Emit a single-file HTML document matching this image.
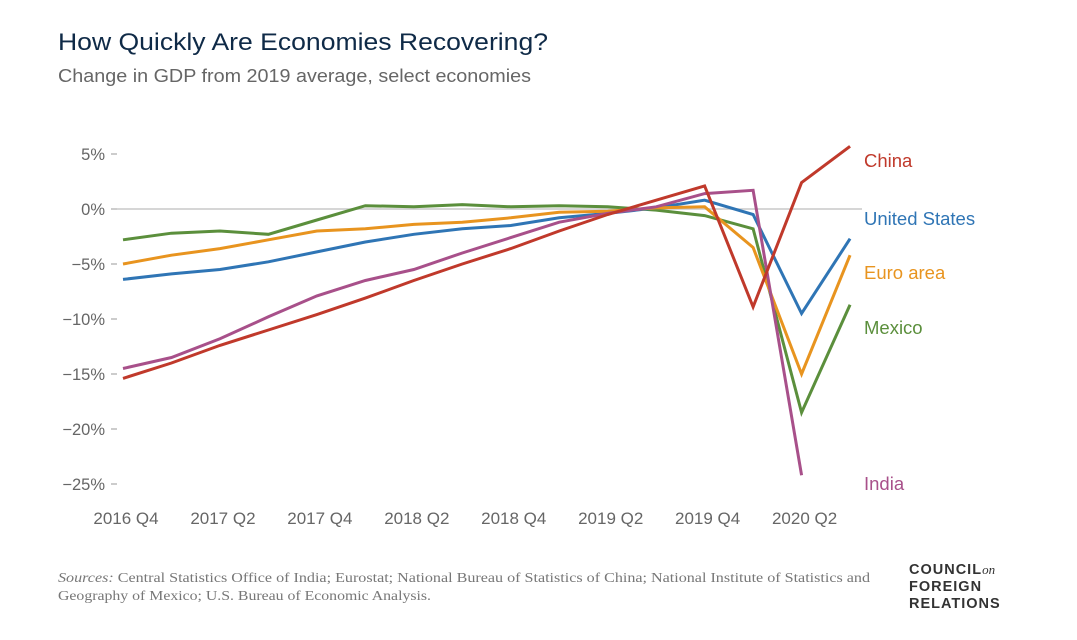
<!DOCTYPE html>
<html><head><meta charset="utf-8"><style>
body{margin:0;background:#fff;width:1077px;height:635px;overflow:hidden;font-family:"Liberation Sans",sans-serif}
svg text{font-family:"Liberation Sans",sans-serif}
</style></head><body>
<svg id="chart" width="1077" height="635">
<text x="58" y="50" font-size="24" fill="#0f2a47" textLength="490" lengthAdjust="spacingAndGlyphs">How Quickly Are Economies Recovering?</text>
<text x="58" y="82" font-size="18" fill="#666" textLength="473" lengthAdjust="spacingAndGlyphs">Change in GDP from 2019 average, select economies</text>
<g id="axes"></g><g id="lines"></g><g id="labels"></g>
<text x="58" y="582" font-size="13.5" fill="#777" font-family="Liberation Serif" textLength="812" lengthAdjust="spacingAndGlyphs"><tspan font-style="italic" font-family="Liberation Serif">Sources:</tspan><tspan font-family="Liberation Serif"> Central Statistics Office of India; Eurostat; National Bureau of Statistics of China; National Institute of Statistics and</tspan></text>
<text x="58" y="600" font-size="13.5" fill="#777" font-family="Liberation Serif" textLength="373" lengthAdjust="spacingAndGlyphs"><tspan font-family="Liberation Serif">Geography of Mexico; U.S. Bureau of Economic Analysis.</tspan></text>
<g fill="#333" font-size="14.5" font-weight="bold" letter-spacing="1">
<text x="909" y="574">COUNCIL<tspan font-family="Liberation Serif" font-style="italic" font-weight="normal" font-size="13" letter-spacing="0">on</tspan></text>
<text x="909" y="591">FOREIGN</text>
<text x="909" y="608">RELATIONS</text>
</g>
</svg>
<script>
const quarters=['2016 Q4','2017 Q1','2017 Q2','2017 Q3','2017 Q4','2018 Q1','2018 Q2','2018 Q3','2018 Q4','2019 Q1','2019 Q2','2019 Q3','2019 Q4','2020 Q1','2020 Q2','2020 Q3'];
const xTickLabels=['2016 Q4','2017 Q2','2017 Q4','2018 Q2','2018 Q4','2019 Q2','2019 Q4','2020 Q2'];
const yTicks=[5,0,-5,-10,-15,-20,-25];
const china=[-15.4,-14,-12.4,-11,-9.6,-8.1,-6.5,-5,-3.6,-2,-0.5,0.8,2.1,-8.9,2.4,5.7];
const us=[-6.4,-5.9,-5.5,-4.8,-3.9,-3.0,-2.3,-1.8,-1.5,-0.8,-0.4,0.1,0.8,-0.5,-9.5,-2.7];
const euro=[-5,-4.2,-3.6,-2.8,-2.0,-1.8,-1.4,-1.2,-0.8,-0.3,-0.2,0.1,0.2,-3.5,-15,-4.2];
const mexico=[-2.8,-2.2,-2.0,-2.3,-1.0,0.3,0.2,0.4,0.2,0.3,0.2,-0.1,-0.6,-1.8,-18.5,-8.7];
const india=[-14.5,-13.5,-11.8,-9.8,-7.9,-6.5,-5.5,-4.0,-2.6,-1.2,-0.4,0.2,1.4,1.7,-24.2];
const NS='http://www.w3.org/2000/svg';
const x=i=>123+i*48.47;
const y=v=>209-v*11;
function mk(t,a,p){const e=document.createElementNS(NS,t);for(const k in a)e.setAttribute(k,a[k]);p.appendChild(e);return e;}
const ax=document.getElementById('axes');
yTicks.forEach(v=>{
 const t=mk('text',{x:105,y:y(v)+6,'font-size':16.5,fill:'#666','text-anchor':'end'},ax);
 t.textContent=(v<0?'\u2212'+(-v):v)+'%';
 
 
 const d=mk('line',{x1:111,x2:117,y1:y(v),y2:y(v),stroke:'#bbb','stroke-width':1.5},ax);
 
 
});
const zl=mk('line',{x1:112,x2:862,y1:y(0),y2:y(0),stroke:'#c8c8c8','stroke-width':1.5},ax);


xTickLabels.forEach(l=>{
 const i=quarters.indexOf(l);
 const t=mk('text',{x:x(i)+3,y:524,'font-size':17,fill:'#666','text-anchor':'middle'},ax);
 t.textContent=l;
 
 
});
const series=[['China',china,'#c0392b',167],['United States',us,'#2f75b5',225],['Euro area',euro,'#e8941f',279],['Mexico',mexico,'#5b8f3c',334],['India',india,'#a8508a',490]];
const lg=document.getElementById('lines'),lb=document.getElementById('labels');
[series[3],series[1],series[2],series[4],series[0]].forEach(([n,d,c])=>{
 const p=mk('polyline',{points:d.map((v,i)=>x(i)+','+y(v)).join(' '),fill:'none',stroke:c,'stroke-width':3,'stroke-linejoin':'miter'},lg);
 
 
});
series.forEach(([n,d,c,ly])=>{
 const t=mk('text',{x:864,y:ly,'font-size':18.5,fill:c},lb);
 t.textContent=n;
 
 
});
</script>
</body></html>
